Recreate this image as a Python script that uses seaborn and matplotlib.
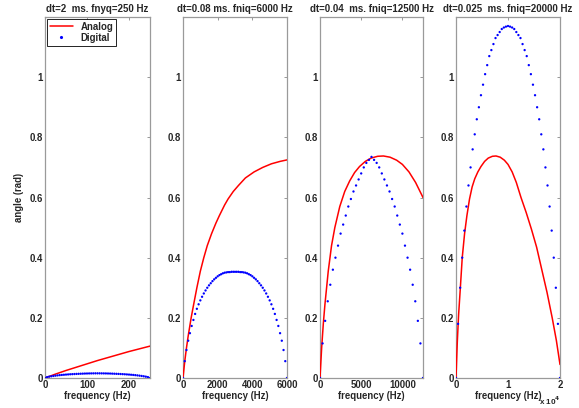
import numpy as np
import pandas as pd
import matplotlib
matplotlib.use("Agg")
import matplotlib.pyplot as plt
from matplotlib.lines import Line2D
from matplotlib.ticker import FuncFormatter
import seaborn as sns

# ---------------- data ----------------
titles = ["dt=2  ms. fnyq=250 Hz", "dt=0.08 ms. fniq=6000 Hz",
          "dt=0.04  ms. fniq=12500 Hz", "dt=0.025  ms. fniq=20000 Hz"]
fnyq = [250, 6000, 12500, 20000]
digital_df = [5, 100, 312.5, 400]

analog1_f = [0, 25, 50, 75, 100, 125, 150, 175, 200, 225, 250]
analog1_v = [0, 0.013, 0.025, 0.036, 0.047, 0.058, 0.068, 0.078, 0.088, 0.097, 0.106]

analog2_f = [0, 100, 200, 300, 470, 600, 800, 1000, 1200, 1400, 1650, 1900, 2100, 2400, 2600, 2900,
             3200, 3600, 4100, 4600, 5100, 5600, 6000]
analog2_v = [0, 0.055, 0.10, 0.14, 0.20, 0.24, 0.30, 0.355, 0.40, 0.44, 0.48, 0.515, 0.54, 0.575,
             0.595, 0.62, 0.64, 0.665, 0.685, 0.70, 0.712, 0.72, 0.725]

analog3_f = [0, 200, 400, 600, 800, 1000, 1400, 1800, 2400, 3000, 3600, 4200, 4800, 5500, 6200, 7000,
             7700, 8500, 9300, 10000, 10800, 11600, 12500]
analog3_v = [0, 0.10, 0.18, 0.245, 0.30, 0.355, 0.44, 0.50, 0.57, 0.62, 0.655, 0.683, 0.703, 0.72,
             0.731, 0.737, 0.738, 0.734, 0.724, 0.71, 0.685, 0.65, 0.60]

analog4_f = [0, 250, 500, 800, 1200, 1650, 2100, 2600, 3100, 3600, 4200, 4800, 5500, 6200, 7000, 7700,
             8500, 9300, 10000, 10800, 11600, 12500, 13500, 14500, 15500, 16500, 17500, 18500, 19300,
             20000]
analog4_v = [0, 0.12, 0.21, 0.29, 0.40, 0.48, 0.54, 0.595, 0.635, 0.662, 0.685, 0.703, 0.72, 0.731,
             0.737, 0.738, 0.734, 0.724, 0.71, 0.685, 0.65, 0.60, 0.55, 0.495, 0.435, 0.36, 0.285,
             0.20, 0.125, 0.045]

digital1_v = [0, 0.003, 0.0045, 0.0058, 0.0068, 0.0078, 0.0087, 0.0095, 0.0102, 0.0108, 0.0114, 0.0119,
              0.0124, 0.0128, 0.0132, 0.0136, 0.0139, 0.0142, 0.0145, 0.0148, 0.0150, 0.0152, 0.0153,
              0.0154, 0.0155, 0.0155, 0.0155, 0.0154, 0.0153, 0.0152, 0.0150, 0.0148, 0.0145, 0.0142,
              0.0139, 0.0136, 0.0132, 0.0128, 0.0124, 0.0119, 0.0114, 0.0108, 0.0102, 0.0095, 0.0087,
              0.0078, 0.0068, 0.0058, 0.0045, 0.003, 0]

digital2_v = [0, 0.056, 0.093, 0.124, 0.149, 0.173, 0.193, 0.213, 0.230, 0.245, 0.258, 0.270, 0.281,
              0.291, 0.300, 0.308, 0.315, 0.322, 0.328, 0.333, 0.338, 0.342, 0.345, 0.348, 0.350, 0.351,
              0.352, 0.352, 0.353, 0.353, 0.353, 0.353, 0.353, 0.352, 0.352, 0.351, 0.350, 0.348, 0.345,
              0.342, 0.338, 0.333, 0.328, 0.322, 0.315, 0.308, 0.300, 0.291, 0.281, 0.270, 0.258, 0.245,
              0.230, 0.213, 0.193, 0.173, 0.149, 0.124, 0.093, 0.056, 0]

digital3_v = [0, 0.115, 0.190, 0.255, 0.310, 0.360, 0.400, 0.440, 0.480, 0.510, 0.540, 0.570, 0.595,
              0.620, 0.640, 0.660, 0.680, 0.700, 0.715, 0.725, 0.735, 0.725, 0.715, 0.700, 0.680, 0.660,
              0.640, 0.620, 0.595, 0.570, 0.540, 0.510, 0.480, 0.440, 0.400, 0.360, 0.310, 0.255, 0.190,
              0.115, 0]

digital4_v = [0, 0.18, 0.30, 0.40, 0.49, 0.57, 0.64, 0.70, 0.76, 0.81, 0.86, 0.90, 0.94, 0.975, 1.01,
              1.04, 1.07, 1.09, 1.11, 1.13, 1.14, 1.15, 1.16, 1.165, 1.168, 1.17, 1.168, 1.165, 1.16,
              1.15, 1.14, 1.13, 1.11, 1.09, 1.07, 1.04, 1.01, 0.975, 0.94, 0.90, 0.86, 0.81, 0.76, 0.70,
              0.64, 0.57, 0.49, 0.40, 0.30, 0.18, 0]

xticks = [[0, 100, 200], [0, 2000, 4000, 6000], [0, 5000, 10000], [0, 10000, 20000]]
yticks = [0, 0.2, 0.4, 0.6, 0.8, 1.0]

analog_f = [analog1_f, analog2_f, analog3_f, analog4_f]
analog_v = [analog1_v, analog2_v, analog3_v, analog4_v]
digital_v = [digital1_v, digital2_v, digital3_v, digital4_v]

# ---------------- style ----------------
sns.set_style("white")
plt.rcParams["font.family"] = ["Liberation Sans", "DejaVu Sans"]
plt.rcParams["font.weight"] = "bold"
FS = 6.9

W, H = 579, 408
fig = plt.figure(figsize=(W / 100, H / 100), dpi=100)
lefts = [45, 183, 320, 456]
widths = [105, 104, 103, 104]
top_px, bot_px = 17, 378

def ytick_fmt(v, pos):
    return "%g" % v

for i in range(4):
    ax = fig.add_axes([lefts[i] / W, (H - bot_px) / H, widths[i] / W, (bot_px - top_px) / H])
    dfa = pd.DataFrame({"f": analog_f[i], "v": analog_v[i]})
    n = len(digital_v[i])
    dfd = pd.DataFrame({"f": np.arange(n) * digital_df[i], "v": digital_v[i]})
    sns.lineplot(data=dfa, x="f", y="v", ax=ax, color="#ff0000", linewidth=1.1, zorder=3)
    sns.scatterplot(data=dfd, x="f", y="v", ax=ax, color="#0000ff", s=2.8, linewidth=0,
                    edgecolor="none", zorder=4)
    ax.set_xlim(0, fnyq[i])
    ax.set_ylim(0, 1.2)
    ax.set_xticks(xticks[i])
    ax.set_yticks(yticks)
    ax.yaxis.set_major_formatter(FuncFormatter(ytick_fmt))
    if i == 3:
        ax.xaxis.set_major_formatter(FuncFormatter(lambda v, p: "%g" % (v / 1e4)))
    ax.tick_params(direction="in", top=True, right=True, length=2.5, width=0.6,
                   color="#888888", labelsize=FS, pad=1.5)
    for lab in ax.get_xticklabels() + ax.get_yticklabels():
        lab.set_fontweight("bold")
    for sp in ax.spines.values():
        sp.set_color("#9a9a9a")
        sp.set_linewidth(0.9)
    ax.set_title(titles[i], fontsize=7.0, fontweight="bold", pad=3.5)
    ax.set_xlabel("frequency (Hz)", fontsize=FS, fontweight="bold", labelpad=1)
    if i == 0:
        ax.set_ylabel("angle (rad)", fontsize=FS, fontweight="bold", labelpad=4)
        handles = [Line2D([0], [0], color="#ff0000", lw=1.1),
                   Line2D([0], [0], color="#0000ff", marker=".", markersize=2.5, linestyle="none")]
        leg = ax.legend(handles, ["Analog", "Digital"], loc="upper left", fontsize=FS,
                        frameon=True, fancybox=False, framealpha=1, borderpad=0.3,
                        handlelength=2.4, handletextpad=0.8, labelspacing=0.1,
                        borderaxespad=0.2, prop={"weight": "bold", "size": FS})
        leg.get_frame().set_edgecolor("black")
        leg.get_frame().set_linewidth(0.6)
    else:
        ax.set_ylabel("")

fig.text(539 / W, 1 - 401 / H, r"x 10$^{4}$", fontsize=5.8, fontweight="bold", va="center", ha="left")

fig.savefig("out.png", dpi=100, facecolor="white")
